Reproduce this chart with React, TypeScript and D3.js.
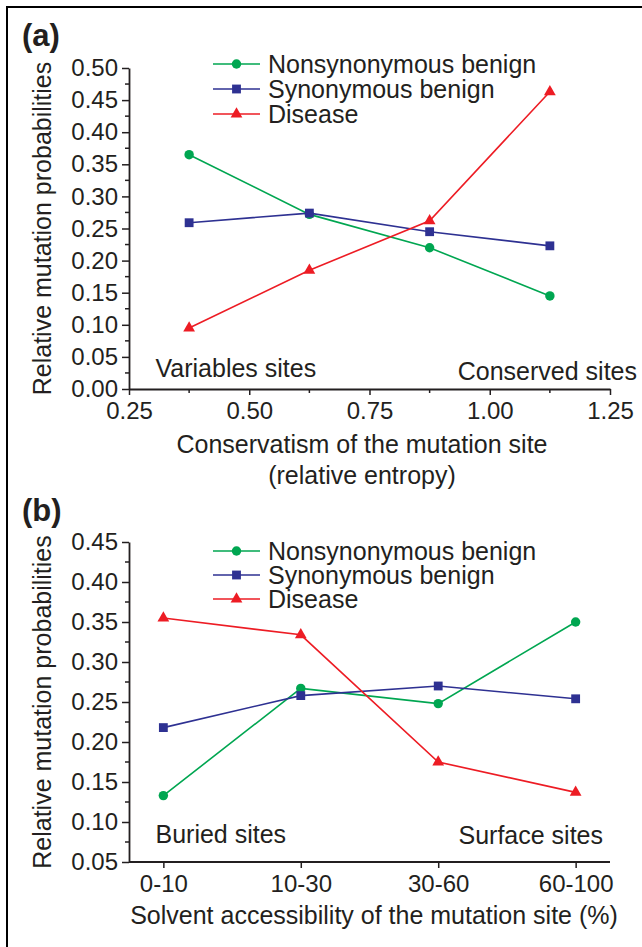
import React, { useEffect, useRef } from "react"
import * as d3 from "d3"

// panel (a): conservatism (relative entropy)
const entropyBins = [0.375, 0.625, 0.875, 1.125]
const entropyTicks = [0.25, 0.5, 0.75, 1.0, 1.25]
const nonsynA = [0.365, 0.272, 0.22, 0.145]
const synA = [0.259, 0.274, 0.245, 0.223]
const diseaseA = [0.095, 0.185, 0.262, 0.463]
const yTicksA = [0, 0.05, 0.1, 0.15, 0.2, 0.25, 0.3, 0.35, 0.4, 0.45, 0.5]

// panel (b): solvent accessibility
const accessBins = ["0-10", "10-30", "30-60", "60-100"]
const nonsynB = [0.133, 0.267, 0.248, 0.35]
const synB = [0.218, 0.258, 0.27, 0.254]
const diseaseB = [0.355, 0.334, 0.175, 0.137]
const yTicksB = [0.05, 0.1, 0.15, 0.2, 0.25, 0.3, 0.35, 0.4, 0.45]

const seriesNames = ["Nonsynonymous benign", "Synonymous benign", "Disease"]
const seriesColors = ["#00a651", "#2e3192", "#ed1c24"]

const ink = "#231f20"
const font = "'Liberation Sans', Arial, Helvetica, sans-serif"

const symbols = [
  d3.symbol().type(d3.symbolCircle).size(70),
  d3.symbol().type(d3.symbolSquare).size(78),
  d3.symbol().type(d3.symbolTriangle).size(60)
]

function midpoints(ticks: number[]) {
  const out: number[] = []
  for (let i = 0; i < ticks.length - 1; i++) out.push((ticks[i] + ticks[i + 1]) / 2)
  return out
}

function drawPanel(svg: any, o: any) {
  const g = svg.append("g")
  const { x, y, series, cats } = o

  // y axis
  const yAxis = g
    .append("g")
    .attr("transform", `translate(${o.left},0)`)
    .call(
      d3
        .axisLeft(y)
        .tickValues(o.yTicks)
        .tickSize(7)
        .tickSizeOuter(0)
        .tickPadding(4)
        .tickFormat(d3.format(".2f"))
    )
  yAxis
    .selectAll(".tick")
    .data(midpoints(o.yTicks), (d: any) => d)
    .enter()
    .append("line")
    .attr("x1", -4)
    .attr("x2", 0)
    .attr("y1", (d: number) => y(d))
    .attr("y2", (d: number) => y(d))
    .attr("stroke", ink)
    .attr("stroke-width", 1.5)

  // x axis
  const xAxis = g
    .append("g")
    .attr("transform", `translate(0,${o.bottom})`)
    .call(
      (o.linear ? d3.axisBottom(x).tickValues(o.xTicks).tickFormat(d3.format(".2f")) : d3.axisBottom(x))
        .tickSize(6)
        .tickSizeOuter(0)
        .tickPadding(7)
    )
  if (o.linear) {
    xAxis
      .selectAll(".minor")
      .data(midpoints(o.xTicks))
      .enter()
      .append("line")
      .attr("x1", (d: number) => x(d))
      .attr("x2", (d: number) => x(d))
      .attr("y1", 0)
      .attr("y2", 4)
      .attr("stroke", ink)
      .attr("stroke-width", 1.5)
  }
  if (!o.linear) {
    xAxis.select(".domain").attr("d", `M${o.left},0H${o.right}`)
  }

  for (const ax of [xAxis, yAxis]) {
    ax.select(".domain").attr("stroke", ink).attr("stroke-width", 1.8)
    ax.selectAll(".tick line").attr("stroke", ink).attr("stroke-width", 1.5)
    ax.selectAll(".tick text")
      .attr("fill", ink)
      .attr("font-size", 24)
      .attr("font-family", font)
  }

  // series lines + markers
  series.forEach((vals: number[], i: number) => {
    const pts = vals.map((v, j) => [x(cats[j]), y(v)])
    g.append("path")
      .attr("d", d3.line()(pts as any))
      .attr("fill", "none")
      .attr("stroke", seriesColors[i])
      .attr("stroke-width", 1.6)
    g.append("g")
      .selectAll("path")
      .data(pts)
      .join("path")
      .attr("transform", (d: any) => `translate(${d[0]},${d[1]})`)
      .attr("d", symbols[i]())
      .attr("fill", seriesColors[i])
  })

  // legend
  const leg = g.append("g")
  seriesNames.forEach((name, i) => {
    const ly = o.legendY + i * o.legendStep
    leg.append("line")
      .attr("x1", 213).attr("x2", 260)
      .attr("y1", ly).attr("y2", ly)
      .attr("stroke", seriesColors[i])
      .attr("stroke-width", 1.6)
    leg.append("path")
      .attr("transform", `translate(236.5,${ly})`)
      .attr("d", symbols[i]())
      .attr("fill", seriesColors[i])
    leg.append("text")
      .attr("x", 268)
      .attr("y", ly)
      .attr("dy", "0.35em")
      .text(name)
  })

  // y title
  g.append("text")
    .attr("transform", `translate(51,${(y.range()[0] + y.range()[1]) / 2}) rotate(-90)`)
    .attr("text-anchor", "middle")
    .text("Relative mutation probabilities")

  // x title
  o.xTitle.forEach((t: string, i: number) => {
    g.append("text")
      .attr("x", o.xTitleX)
      .attr("y", o.xTitleY + i * 31)
      .attr("text-anchor", "middle")
      .text(t)
  })

  // panel letter
  g.append("text")
    .attr("x", 22)
    .attr("y", o.letterY)
    .attr("font-weight", "bold")
    .attr("font-size", 31)
    .text(o.letter)

  // corner notes
  g.append("text").attr("x", 155.5).attr("y", o.noteY[0]).text(o.notes[0])
  g.append("text")
    .attr("x", o.noteRight)
    .attr("y", o.noteY[1])
    .attr("text-anchor", "end")
    .text(o.notes[1])
}

function MutationChart() {
  const ref = useRef<SVGSVGElement>(null)

  useEffect(() => {
    const svg = d3.select(ref.current)
    svg.selectAll("*").remove()
    svg.attr("font-family", font).attr("font-size", 25).attr("fill", ink)

    svg.append("rect")
      .attr("x", 7).attr("y", 7)
      .attr("width", 700).attr("height", 1000)
      .attr("fill", "none")
      .attr("stroke", "#000")
      .attr("stroke-width", 2)

    const xA = d3.scaleLinear().domain([0.25, 1.25]).range([129, 610])
    const yA = d3.scaleLinear().domain([0, 0.5]).range([389, 68])
    drawPanel(svg, {
      x: xA, y: yA, linear: true, xTicks: entropyTicks, yTicks: yTicksA,
      cats: entropyBins, series: [nonsynA, synA, diseaseA],
      left: 129, right: 610, bottom: 389,
      legendY: 64, legendStep: 25,
      xTitle: ["Conservatism of the mutation site", "(relative entropy)"],
      xTitleX: 362, xTitleY: 453,
      letter: "(a)", letterY: 46,
      notes: ["Variables sites", "Conserved sites"], noteY: [377, 380], noteRight: 637
    })

    const xB = d3.scalePoint().domain(accessBins).range([129, 610]).padding(0.25)
    const yB = d3.scaleLinear().domain([0.05, 0.45]).range([862, 542])
    drawPanel(svg, {
      x: xB, y: yB, linear: false, yTicks: yTicksB,
      cats: accessBins, series: [nonsynB, synB, diseaseB],
      left: 129, right: 610, bottom: 862,
      legendY: 551, legendStep: 24,
      xTitle: ["Solvent accessibility of the mutation site (%)"],
      xTitleX: 374, xTitleY: 924,
      letter: "(b)", letterY: 521,
      notes: ["Buried sites", "Surface sites"], noteY: [843, 844], noteRight: 603
    })
  }, [])

  return <svg ref={ref} width={642} height={947} style={{ display: "block" }} />
}

export default function App() {
  return (
    <div style={{ position: "absolute", left: 0, top: 0, width: 642, height: 947, background: "#fff", overflow: "hidden" }}>
      <MutationChart />
    </div>
  )
}
